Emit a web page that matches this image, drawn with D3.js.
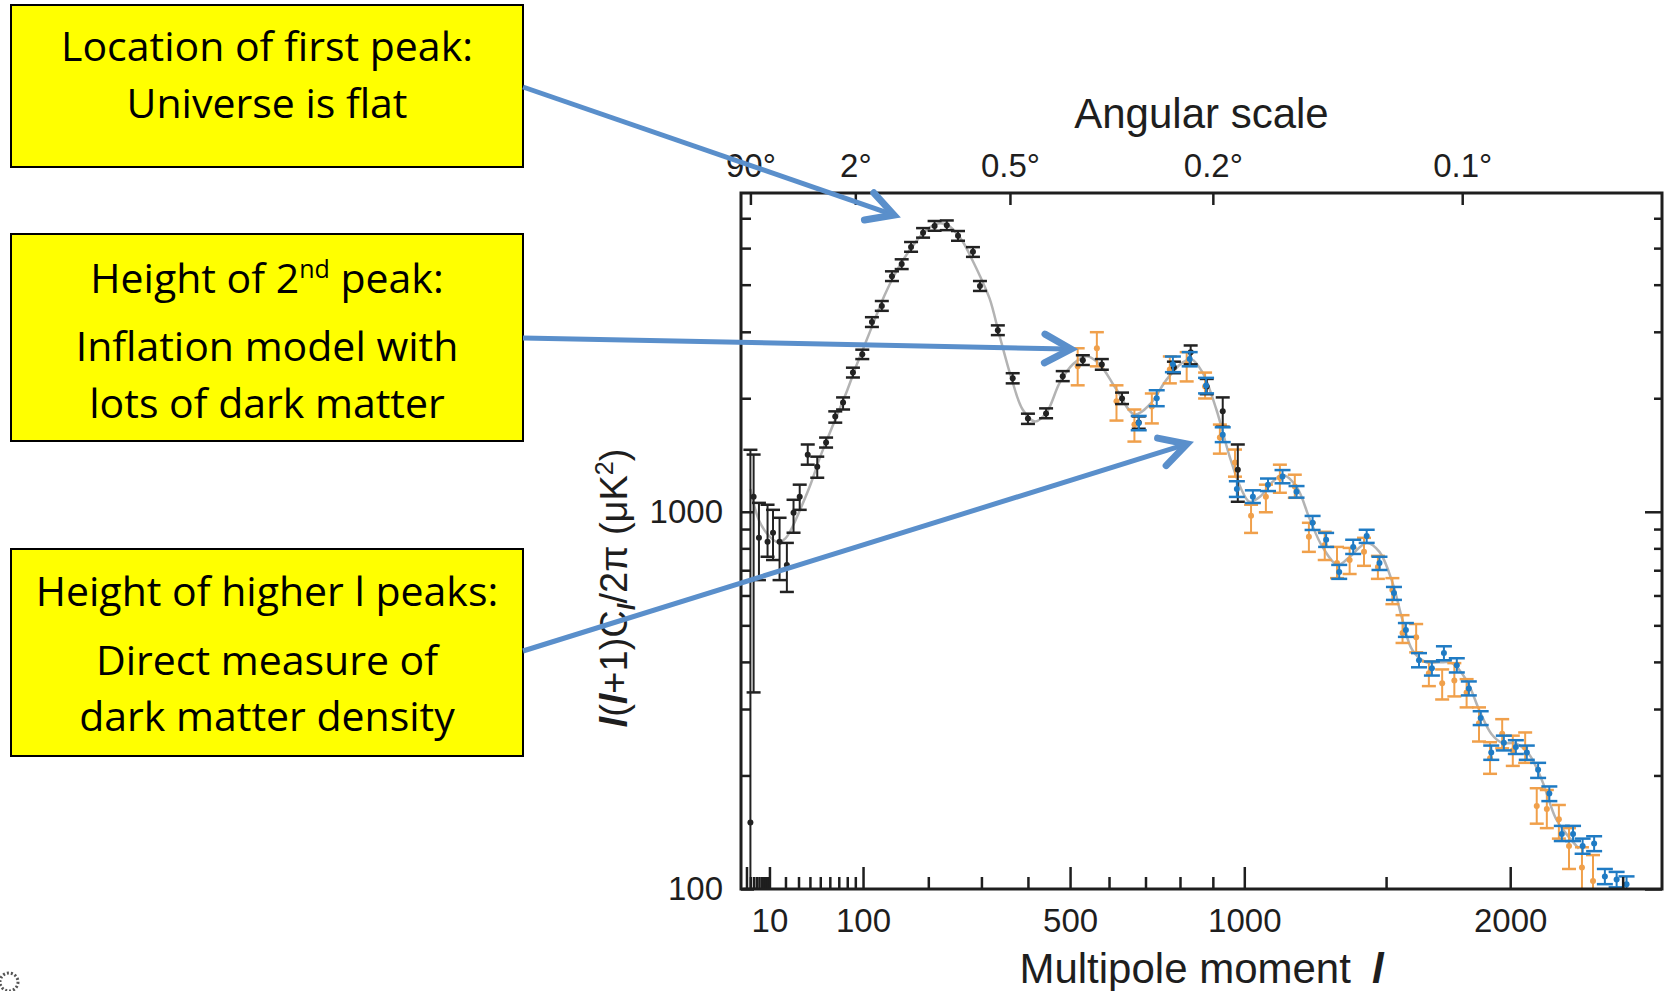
<!DOCTYPE html>
<html>
<head>
<meta charset="utf-8">
<script src="https://cdn.jsdelivr.net/npm/d3@7"></script>
<style>
  body { margin: 0; background: #fff; }
  svg { display: block; }
</style>
</head>
<body>
<svg id="chart" width="1667" height="991"></svg>
<script>
// ---- data ----
// theory curve
var theoryL = [2, 5, 10, 15, 20, 25, 30, 40, 50, 60, 70, 80, 90, 100, 115, 130, 145, 160, 175, 190, 205, 220, 235, 250, 265, 280, 297, 317, 338, 364, 388, 416, 443, 475, 507, 542, 575, 620, 669, 712, 761, 808, 835, 868, 911, 953, 991, 1017, 1051, 1094, 1127, 1175, 1222, 1266, 1320, 1364, 1427, 1475, 1525, 1563, 1601, 1656, 1708, 1759, 1818, 1871, 1920, 1966, 2024, 2080, 2137, 2197, 2244, 2300];
var theoryD = [1150, 950, 860, 830, 850, 910, 990, 1170, 1400, 1620, 1850, 2100, 2400, 2700, 3200, 3750, 4250, 4700, 5100, 5450, 5700, 5820, 5750, 5500, 5150, 4700, 4217, 3666, 2917, 2244, 1867, 1735, 1833, 2203, 2461, 2584, 2461, 2109, 1812, 1926, 2244, 2490, 2536, 2342, 1867, 1400, 1144, 1063, 1096, 1202, 1254, 1165, 952, 807, 723, 759, 827, 783, 647, 516, 430, 399, 399, 397, 357, 297, 258, 244, 243, 228, 194, 154, 140, 128];

// black points
var blackL  = [2, 3, 5, 9, 12, 16, 21, 26, 31, 38, 47, 56, 66, 75, 87, 99, 112, 126, 141, 156, 171, 191, 211, 233, 254, 283, 297, 334, 366, 400, 442, 482, 532, 581, 635, 681, 782, 832, 881, 931, 979];
var blackD  = [150, 1096, 853, 833, 880, 833, 723, 994, 1096, 1417, 1317, 1526, 1789, 1948, 2340, 2616, 3184, 3512, 4211, 4537, 5035, 5488, 5726, 5750, 5390, 4887, 3967, 3027, 2259, 1766, 1822, 2286, 2523, 2459, 1997, 1725, 2415, 2650, 2148, 1846, 1293];
var blackLo = [100, 332, 659, 760, 745, 659, 613, 880, 1012, 1333, 1231, 1480, 1723, 1867, 2270, 2540, 3090, 3410, 4090, 4400, 4890, 5330, 5560, 5580, 5230, 4740, 3850, 2940, 2190, 1710, 1770, 2220, 2450, 2380, 1930, 1660, 2330, 2460, 2050, 1680, 1063];
var blackHi = [1460, 1418, 1056, 1044, 1012, 964, 827, 1076, 1180, 1508, 1400, 1573, 1846, 2010, 2410, 2690, 3280, 3620, 4340, 4670, 5190, 5650, 5900, 5920, 5550, 5030, 4090, 3120, 2330, 1820, 1880, 2360, 2600, 2540, 2070, 1790, 2500, 2760, 2250, 2010, 1508];

// orange points
var orangeL  = [519, 568, 620, 669, 718, 770, 820, 876, 922, 970, 1022, 1071, 1118, 1169, 1218, 1274, 1318, 1364, 1417, 1469, 1524, 1563, 1616, 1666, 1719, 1768, 1818, 1869, 1915, 1966, 2011, 2064, 2114, 2158, 2211, 2256, 2314, 2364];
var orangeD  = [2430, 2713, 1962, 1703, 1901, 2385, 2459, 2148, 1573, 1350, 976, 1096, 1231, 1166, 858, 817, 732, 745, 783, 714, 620, 477, 465, 373, 351, 357, 332, 275, 222, 258, 233, 237, 166, 163, 153, 130, 114, 105];
var orangeLo = [2164, 2430, 1745, 1535, 1715, 2190, 2216, 1997, 1426, 1239, 879, 997, 1123, 1089, 783, 745, 667, 684, 719, 664, 569, 449, 424, 345, 318, 324, 303, 246, 202, 236, 212, 216, 149, 145, 136, 113, 98, 90];
var orangeHi = [2713, 2993, 2164, 1867, 2059, 2581, 2650, 2339, 1703, 1462, 1044, 1180, 1333, 1254, 935, 885, 807, 802, 853, 764, 667, 532, 504, 401, 382, 397, 360, 303, 245, 282, 255, 260, 185, 183, 167, 145, 129, 123];

// blue points
var blueL  = [681, 732, 779, 829, 879, 931, 976, 1028, 1078, 1127, 1175, 1231, 1279, 1326, 1377, 1427, 1475, 1530, 1576, 1627, 1678, 1726, 1778, 1827, 1876, 1920, 1973, 2024, 2071, 2120, 2169, 2224, 2274, 2317, 2369, 2418, 2472, 2518];
var blueD  = [1720, 2000, 2460, 2540, 2160, 1600, 1150, 1096, 1180, 1240, 1130, 935, 843, 692, 807, 863, 732, 609, 486, 404, 385, 422, 392, 340, 284, 230, 244, 238, 230, 207, 179, 140, 140, 130, 132, 108, 106, 103];
var blueLo = [1645, 1905, 2345, 2430, 2060, 1530, 1095, 1055, 1135, 1190, 1090, 895, 807, 664, 773, 827, 701, 584, 466, 387, 368, 404, 375, 326, 272, 220, 233, 228, 220, 197, 171, 134, 134, 124, 126, 103, 101, 98];
var blueHi = [1795, 2100, 2580, 2650, 2265, 1675, 1205, 1140, 1225, 1290, 1170, 975, 879, 723, 843, 896, 760, 632, 507, 422, 401, 440, 409, 355, 296, 240, 255, 248, 240, 216, 187, 147, 147, 136, 138, 113, 111, 108];

// axis ticks
var topTickL = [2, 90, 360, 900, 1800];
var topTickLabels = ['90°', '2°', '0.5°', '0.2°', '0.1°'];
var bottomMajorL = [1, 10, 100, 500, 1000, 2000];
var bottomLabelL = [10, 100, 500, 1000, 2000];
var bottomMinorL = [2, 3, 4, 5, 6, 7, 8, 9, 20, 30, 40, 50, 60, 70, 80, 90, 200, 300, 400, 600, 700, 800, 900, 1500, 2500];
var yMajor = [100, 1000];
var yMinor = [200, 300, 400, 500, 600, 700, 800, 900, 2000, 3000, 4000, 5000, 6000];

// annotation texts
var note1 = ['Location of first peak:', 'Universe is flat'];
var note2 = ['Height of 2|nd| peak:', 'Inflation model with', 'lots of dark matter'];
var note3 = ['Height of higher l peaks:', 'Direct measure of', 'dark matter density'];

// ---- init ----
var svg = d3.select('#chart');
var font = "'Liberation Sans', Arial, Helvetica, sans-serif";
var ink = '#1e1e1e';

var pLeft = 741, pRight = 1662, pTop = 193, pBottom = 889;
var x = d3.scalePow().exponent(0.61).domain([0, 2685]).range([739, pRight]);
var y = d3.scaleLog().domain([100, 7000]).range([pBottom, pTop]);

function pts(L, D, lo, hi) {
    return L.map((l, i) => ({l: l, d: D[i], lo: lo[i], hi: hi[i]}));
}

svg.append('defs').append('clipPath').attr('id', 'plotClip')
    .append('rect')
        .attr('x', pLeft).attr('y', pTop)
        .attr('width', pRight - pLeft).attr('height', pBottom - pTop);

var plot = svg.append('g').attr('clip-path', 'url(#plotClip)');

// theory curve
var theory = theoryL.map((l, i) => ({l: l, d: theoryD[i]}));
plot.append('path')
    .datum(theory)
    .attr('fill', 'none')
    .attr('stroke', '#b3b3b3')
    .attr('stroke-width', 2.5)
    .attr('d', d3.line().x(d => x(d.l)).y(d => y(d.d)).curve(d3.curveCatmullRom));

// error bars
function drawSeries(data, color, cap) {
    var g = plot.append('g')
        .selectAll('g')
        .data(data).enter()
        .append('g');
    g.append('line')
        .attr('x1', d => x(d.l)).attr('x2', d => x(d.l))
        .attr('y1', d => y(d.hi)).attr('y2', d => y(d.lo))
        .attr('stroke', color)
        .attr('stroke-width', 2);
    g.append('line')
        .attr('x1', d => x(d.l) - cap).attr('x2', d => x(d.l) + cap)
        .attr('y1', d => y(d.hi)).attr('y2', d => y(d.hi))
        .attr('stroke', color)
        .attr('stroke-width', 2.5);
    g.append('line')
        .attr('x1', d => x(d.l) - cap).attr('x2', d => x(d.l) + cap)
        .attr('y1', d => y(d.lo)).attr('y2', d => y(d.lo))
        .attr('stroke', color)
        .attr('stroke-width', 2.5);
    g.append('circle')
        .attr('cx', d => x(d.l))
        .attr('cy', d => y(d.d))
        .attr('r', 3)
        .attr('fill', color);
}
drawSeries(pts(orangeL, orangeD, orangeLo, orangeHi), '#f0a04b', 7);
drawSeries(pts(blackL, blackD, blackLo, blackHi), '#222222', 7);
drawSeries(pts(blueL, blueD, blueLo, blueHi), '#1f7bc4', 8);

// ---- axes (ticks point inward) ----
function styleAxis(g) {
    g.select('.domain').remove();
    g.selectAll('line').attr('stroke', ink).attr('stroke-width', 2.5);
    g.selectAll('text')
        .attr('fill', ink)
        .style('font-family', font)
        .style('font-size', '33px');
}

svg.append('g')
    .attr('transform', 'translate(0,' + pBottom + ')')
    .call(d3.axisBottom(x).tickValues(bottomMinorL).tickSize(-12).tickFormat(''))
    .call(styleAxis);
svg.append('g')
    .attr('transform', 'translate(0,' + pBottom + ')')
    .call(d3.axisBottom(x).tickValues(bottomMajorL).tickSize(-22).tickPadding(20)
        .tickFormat(d => bottomLabelL.indexOf(d) >= 0 ? d : ''))
    .call(styleAxis);

svg.append('g')
    .attr('transform', 'translate(0,' + pTop + ')')
    .call(d3.axisTop(x).tickValues(topTickL).tickSize(-12).tickPadding(16)
        .tickFormat((d, i) => topTickLabels[i]))
    .call(styleAxis);

svg.append('g')
    .attr('transform', 'translate(' + pLeft + ',0)')
    .call(d3.axisLeft(y).tickValues(yMinor).tickSize(-10).tickFormat(''))
    .call(styleAxis);
svg.append('g')
    .attr('transform', 'translate(' + pLeft + ',0)')
    .call(d3.axisLeft(y).tickValues(yMajor).tickSize(-13).tickPadding(18).tickFormat(d3.format('d')))
    .call(styleAxis);

svg.append('g')
    .attr('transform', 'translate(' + pRight + ',0)')
    .call(d3.axisRight(y).tickValues(yMinor).tickSize(-8).tickFormat(''))
    .call(styleAxis);
svg.append('g')
    .attr('transform', 'translate(' + pRight + ',0)')
    .call(d3.axisRight(y).tickValues(yMajor).tickSize(-17).tickFormat(''))
    .call(styleAxis);

// frame
svg.append('rect')
    .attr('x', pLeft).attr('y', pTop)
    .attr('width', pRight - pLeft).attr('height', pBottom - pTop)
    .attr('fill', 'none')
    .attr('stroke', ink)
    .attr('stroke-width', 3);

// titles
svg.append('text')
    .attr('x', (pLeft + pRight) / 2).attr('y', 128)
    .attr('text-anchor', 'middle')
    .style('font-family', font).style('font-size', '42px')
    .attr('fill', ink)
    .text('Angular scale');

var xt = svg.append('text')
    .attr('x', (pLeft + pRight) / 2).attr('y', 983)
    .attr('text-anchor', 'middle')
    .style('font-family', font).style('font-size', '42px')
    .attr('fill', ink);
xt.append('tspan').text('Multipole moment\u2002');
xt.append('tspan').style('font-style', 'italic').style('font-weight', 'bold').text('l');

var yt = svg.append('text')
    .attr('transform', 'translate(627,588) rotate(-90)')
    .attr('text-anchor', 'middle')
    .style('font-family', font).style('font-size', '38px')
    .attr('fill', ink);
yt.append('tspan').style('font-style', 'italic').style('font-weight', 'bold').text('l');
yt.append('tspan').text('(');
yt.append('tspan').style('font-style', 'italic').style('font-weight', 'bold').text('l');
yt.append('tspan').text('+1)C');
yt.append('tspan').attr('dy', 8).style('font-size', '24px').style('font-style', 'italic').style('font-weight', 'bold').text('l');
yt.append('tspan').attr('dy', -8).text('/2\u03c0 (\u03bcK');
yt.append('tspan').attr('dy', -14).style('font-size', '25px').text('2');
yt.append('tspan').attr('dy', 14).text(')');

// ---- annotation boxes ----
var boxFont = "'Open Sans', 'Noto Sans', sans-serif";
function drawNote(lines, bx, by, bw, bh, baselines) {
    svg.append('rect')
        .attr('x', bx).attr('y', by)
        .attr('width', bw).attr('height', bh)
        .attr('fill', '#ffff00')
        .attr('stroke', '#000')
        .attr('stroke-width', 2);
    lines.forEach((t, i) => {
        var txt = svg.append('text')
            .attr('x', bx + bw / 2).attr('y', baselines[i])
            .attr('text-anchor', 'middle')
            .style('font-family', boxFont).style('font-size', '41px')
            .attr('fill', '#000');
        var parts = t.split('|');
        txt.append('tspan').text(parts[0]);
        if (parts.length > 1) {
            txt.append('tspan').attr('dy', -15).style('font-size', '25px').text(parts[1]);
            txt.append('tspan').attr('dy', 15).text(parts[2]);
        }
    });
}
drawNote(note1, 11, 5, 512, 162, [61, 118]);
drawNote(note2, 11, 234, 512, 207, [293, 361, 418]);
drawNote(note3, 11, 549, 512, 207, [606, 675, 731]);

// ---- arrows ----
var arrowColor = '#5a8fcb';
function arrow(x1, y1, x2, y2) {
    var a = Math.atan2(y2 - y1, x2 - x1), len = 30, spread = 0.5;
    svg.append('line')
        .attr('x1', x1).attr('y1', y1).attr('x2', x2 - 3 * Math.cos(a)).attr('y2', y2 - 3 * Math.sin(a))
        .attr('stroke', arrowColor).attr('stroke-width', 5);
    var p1 = [x2 - len * Math.cos(a - spread), y2 - len * Math.sin(a - spread)];
    var p2 = [x2 - len * Math.cos(a + spread), y2 - len * Math.sin(a + spread)];
    svg.append('polyline')
        .attr('points', [p1, [x2, y2], p2].map(p => p.join(',')).join(' '))
        .attr('fill', 'none')
        .attr('stroke', arrowColor)
        .attr('stroke-width', 7)
        .attr('stroke-linecap', 'round')
        .attr('stroke-linejoin', 'miter');
}
arrow(523, 87, 894, 215);
arrow(523, 338, 1071, 349);
arrow(523, 651, 1187, 444);

// small mark in the lower left corner
svg.append('circle')
    .attr('cx', 9).attr('cy', 982).attr('r', 9)
    .attr('fill', 'none')
    .attr('stroke', '#555')
    .attr('stroke-width', 3)
    .attr('stroke-dasharray', '2,2');
</script>
</body>
</html>
